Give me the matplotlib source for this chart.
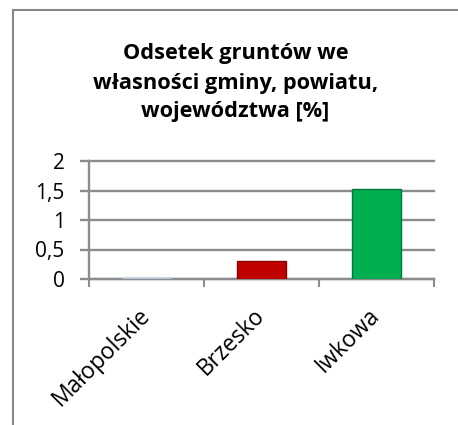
import matplotlib
matplotlib.use("Agg")
import matplotlib.pyplot as plt
from matplotlib.patches import Rectangle

categories = ["Małopolskie", "Brzesko", "Iwkowa"]
values = [0.01, 0.3, 1.52]
colors = ["#9DC3E6", "#C00000", "#00B050"]
edge_colors = ["#A9C4DC", "#8B0000", "#007A3A"]
yticks = [0, 0.5, 1, 1.5, 2]
ytick_labels = ["0", "0,5", "1", "1,5", "2"]
title = "Odsetek gruntów we\nwłasności gminy, powiatu,\nwojewództwa [%]"

plt.rcParams['font.family'] = ['Open Sans', 'DejaVu Sans']

W, H = 458, 425
fig = plt.figure(figsize=(W/100, H/100), dpi=100)
fig.patch.set_facecolor("white")

# chart border
fig.add_artist(Rectangle((13/W, -0.1), 1.2, 1 - 10/H + 0.1, transform=fig.transFigure,
                         fill=False, edgecolor="#868686", linewidth=1.5))

grid_c = "#8C8C8C"
ax = fig.add_axes([89/W, 1 - 279/H, (434-89)/W, (279-161)/H])
x = list(range(len(categories)))
ax.bar(x, values, width=0.43, color=colors, edgecolor=edge_colors, linewidth=1.0, zorder=3)
ax.set_xlim(-0.5, 2.5)
ax.set_ylim(0, 2)
ax.set_yticks(yticks)
ax.set_yticklabels(ytick_labels, fontsize=15)
ax.yaxis.grid(True, color=grid_c, linewidth=1.7, zorder=0)
for gl in ax.get_ygridlines():
    gl.set_clip_on(False)
ax.tick_params(axis='y', length=6.5, width=1.7, color=grid_c, pad=11)
ax.set_xticks([-0.5, 0.5, 1.5, 2.5])
ax.set_xticklabels([])
ax.tick_params(axis='x', length=6, width=1.5, color=grid_c)
ax.set_xticks(x, minor=True)
ax.set_xticklabels(categories, minor=True, rotation=45, ha='right', va='center',
                   rotation_mode='anchor', fontsize=16.5)
ax.tick_params(axis='x', which='minor', length=0, pad=24)
for s in ["right", "top"]:
    ax.spines[s].set_visible(False)
for s in ["bottom", "left"]:
    ax.spines[s].set_color(grid_c)
    ax.spines[s].set_linewidth(1.7)

fig.text(0.5 + 13/W/2, 1 - 83/H, title, ha='center', va='center', fontsize=15.7,
         fontweight='bold', linespacing=1.5)

fig.savefig("out.png", dpi=100)
